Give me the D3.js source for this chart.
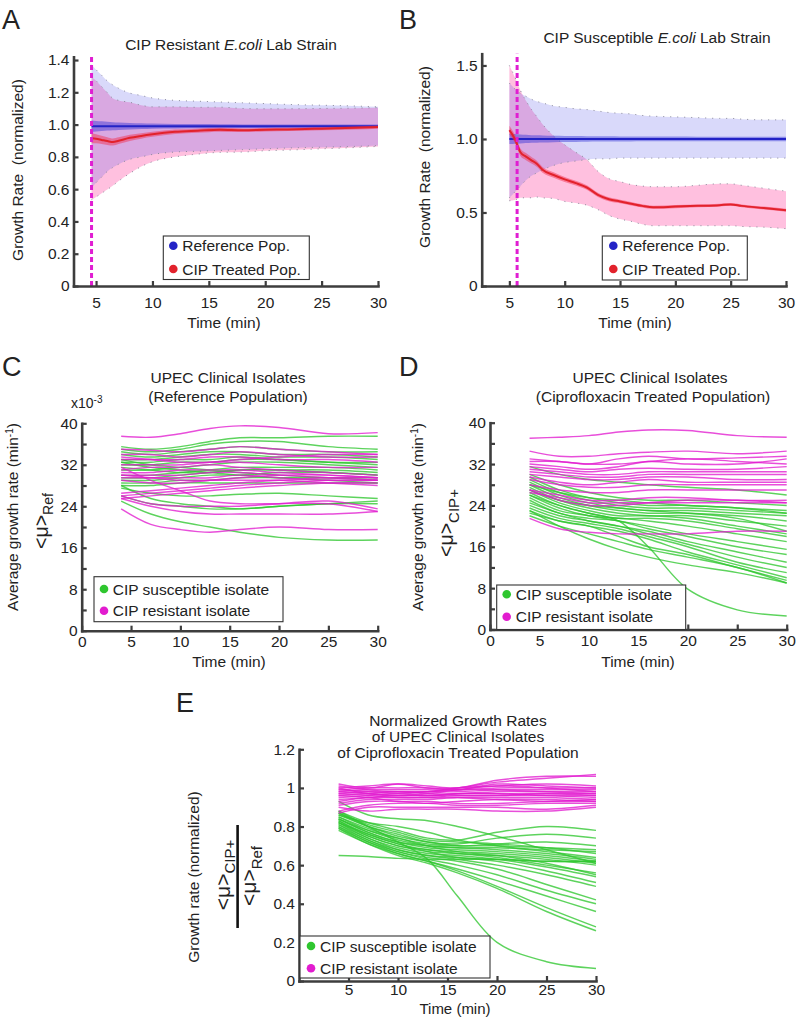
<!DOCTYPE html>
<html><head><meta charset="utf-8">
<script src="https://cdn.jsdelivr.net/npm/d3@7"></script>
<style>
body{margin:0;background:#fff}
svg text{font-family:"Liberation Sans",Arial,Helvetica,sans-serif;fill:#222}
</style>
</head><body>
<svg id="c" width="802" height="1017"></svg>
<script>
// ---------------- DATA ----------------
// Panel A: CIP resistant lab strain
const tA = [4.6, 5, 5.5, 6, 6.5, 7, 8, 9, 10, 12, 14, 16, 18, 20, 22, 25, 28, 30];
const aRefMean = [0.99,0.99,0.99,0.99,0.99,0.99,0.99,0.99,0.99,0.99,0.99,0.99,0.99,0.99,0.99,0.99,0.99,0.99];
const aRefSd   = [0.38,0.35,0.315,0.28,0.255,0.235,0.205,0.19,0.175,0.16,0.155,0.15,0.145,0.14,0.135,0.13,0.125,0.12];
const aRefSem  = [0.035,0.033,0.03,0.027,0.025,0.023,0.02,0.018,0.016,0.014,0.013,0.012,0.011,0.011,0.01,0.01,0.01,0.01];
const aCipMean = [0.915,0.912,0.905,0.898,0.892,0.9,0.918,0.93,0.94,0.955,0.962,0.968,0.965,0.968,0.97,0.975,0.98,0.985];
const aCipSd   = [0.38,0.36,0.33,0.3,0.27,0.25,0.22,0.19,0.17,0.155,0.145,0.14,0.135,0.13,0.128,0.125,0.122,0.12];
const aCipSem  = [0.03,0.028,0.026,0.024,0.022,0.021,0.019,0.017,0.016,0.014,0.013,0.012,0.011,0.011,0.01,0.01,0.01,0.01];
const aTreat = 4.6;

// Panel B: CIP susceptible lab strain
const tB = [5, 5.5, 6, 6.5, 7, 7.5, 8, 9, 10, 11, 12, 13, 14, 15, 16, 17, 18, 20, 22, 24, 25, 26, 28, 30];
const bRefMean  = [1,1,1,1,1,1,1,1,1,1,1,1,1,1,1,1,1,1,1,1,1,1,1,1];
const bRefUpper = [1.38,1.34,1.31,1.29,1.27,1.255,1.245,1.225,1.215,1.205,1.2,1.19,1.18,1.175,1.17,1.16,1.155,1.15,1.145,1.14,1.14,1.135,1.13,1.13];
const bRefLower = [0.6,0.64,0.68,0.72,0.75,0.77,0.79,0.82,0.84,0.85,0.86,0.865,0.865,0.87,0.87,0.87,0.87,0.87,0.87,0.87,0.87,0.87,0.87,0.87];
const bRefSem   = [0.035,0.033,0.03,0.028,0.026,0.025,0.024,0.022,0.021,0.02,0.019,0.018,0.018,0.017,0.017,0.016,0.016,0.016,0.015,0.015,0.015,0.015,0.015,0.015];
const bCipMean  = [1.06,1.0,0.91,0.88,0.855,0.83,0.79,0.755,0.725,0.7,0.67,0.62,0.59,0.575,0.56,0.545,0.535,0.54,0.545,0.55,0.555,0.545,0.53,0.515];
const bCipUpper = [1.5,1.42,1.33,1.26,1.2,1.15,1.1,1.02,0.96,0.91,0.86,0.78,0.73,0.71,0.69,0.68,0.675,0.675,0.685,0.695,0.695,0.685,0.665,0.645];
const bCipLower = [0.58,0.585,0.6,0.6,0.6,0.605,0.6,0.595,0.575,0.565,0.55,0.52,0.48,0.455,0.44,0.42,0.41,0.41,0.41,0.41,0.41,0.405,0.4,0.39];
const bCipSem   = [0.03,0.028,0.026,0.024,0.022,0.021,0.02,0.018,0.017,0.016,0.015,0.014,0.013,0.012,0.012,0.011,0.011,0.011,0.01,0.01,0.01,0.01,0.01,0.01];
const bTreat = 5.7;

// Panels C-E: clinical isolates, sampled at these times (min)
const tIso = [4, 7, 10, 13, 16, 20, 25, 30];
// C: reference population, growth rate x10^-3 min^-1
const cRes = [
 [37.5,37.3,38,39,39.5,39.2,38,38.2],[35,34.8,34.5,35,35.5,35,34.5,34],[34,34,33.5,34,34.5,34,33.5,33.5],
 [33,33,33,33.5,33.5,33,33,32.5],[32,32,32,32.5,32.5,32,31.5,31.5],[31,31.5,31.5,32,31.5,31,30.5,30],
 [30.5,30.5,31,31,31,30.5,30,29.5],[30,30,30,30.5,30.5,30,29.5,29],[29.5,29.5,29.5,29.5,30,29.5,29,29],
 [29,28.5,28.5,29,29.5,30,30,29.5],[26.5,27,27.5,28,28.5,29,29.5,29.5],[26,26.5,27,27.5,28,28.5,29,29],
 [25.5,26,26.5,27,27.5,28,28.5,28.5],[31.5,29,27,25,24.5,24.5,24.5,23],[26,24.5,24,24,24,24.5,25,23.5],
 [25.5,24,23,22.5,22.5,22.5,22.5,23],[23.5,20.5,19.5,19,19.5,20,19.5,19.5],[33.5,33,32.5,32.5,33,33.5,34,34],
 [30,29.5,29,29,29,29,28.5,28]
];
const cSus = [
 [35.5,35,35.5,36.5,37.2,37.2,37.5,37.5],[35,34.5,35,36,36.5,36.5,35.5,35],[34.5,34,34.5,35,35.5,35,34.5,34.5],
 [34,33.5,34,34.5,34.5,34,34,33.5],[33,33,33.5,34,34,33.5,33.5,33],[32.5,32.5,33,33,33.5,33,32.5,32.5],
 [32,32,32.5,32.5,33,33,32.5,32],[31,31,31.5,32,32.5,32.5,32,31.5],[30,30,30.5,31,31.5,31.5,31.5,31],
 [29.5,29.5,30,30.5,31,31,31,30.5],[29,29,29.5,30,30,30.5,30.5,30],[28.5,28.5,29,29,29.5,29.5,29.5,29.5],
 [28,28,28.5,28.5,28.5,28.5,28.5,28.5],[27.5,26.5,26,26,26.3,26.5,26,25.5],[28,25.5,24.5,24,23.5,24,24.5,25],
 [26,24.5,24,23.5,23.5,24,24.5,24.5],[25,22.5,21,20,19,18,17.5,17.5],[32.5,31.5,31,30.5,30,29.5,29,28.5],
 [33,32,31.5,31,30.5,30,29.5,29],[31.5,31,30.5,30.5,31,31,30.5,30]
];
// D: ciprofloxacin treated population
const dRes = [
 [37,37.2,37.5,38.2,38.6,38.5,37.5,37.2],[34.5,33.5,33.5,34,34.3,34.5,34,34.5],[32.5,32.5,32,33,33.5,33,33.2,33.5],
 [32,31.5,31,31.5,32.5,32,32,33],[31.5,31,30.5,31,31.2,31,31,31.5],[31,30.5,30,30,30.5,30.5,30.5,30.5],
 [30.5,30,29.5,29.5,30,30,30,30],[30,29.5,29,29,29.5,29.5,29,29],[29.5,28.5,28,28.5,29,28.5,28.5,28.5],
 [29,28,27.5,27.5,28,28,28,28],[28,27,26.5,26.5,27,27,27,27],[27,26,25,25,25.5,25.5,25,25],
 [26.5,25.5,24.5,24.5,24.5,24.5,24.5,24.5],[21.5,19.5,18.8,18.5,18.5,18.5,19,19],[27,25,24,24,24.5,25,25,24.5],
 [33,32.5,32,32,32.5,33,32.5,32]
];
const dSus = [
 [31.5,30,29,28.5,28,27.5,27,26],[30,28,26.5,25.5,25,25,24.5,24],[29.5,27,25.5,24.5,24,24,23.5,23],
 [29,26.5,25,24,23.5,23.5,23,22.5],[28.5,26,24.5,23.5,23,23,22.5,22],[28,25.5,24,23,22.5,22.5,22,21],
 [27.5,25,23.5,22.5,22,22,21,20],[27,24.5,23,22,22,21.5,20,18.5],[26.5,24,22.5,21.5,21.5,21,19.5,18],
 [26,23.5,22,21.5,21,20,18.5,17],[25.5,23,22,21,20,18.5,17,15.5],[25,22.5,21.5,21,19.5,18,16,14.5],
 [24.5,22.5,21,20,19,17,15,13],[24,22,21,20,18.5,16.5,14,12],[23.5,21.5,20.5,19.5,18,16,13,11],
 [23,21,20,19,17.5,15,12.5,10],[22.5,21,20,18,16,14.5,12,9.5],[22,20,18.5,17,15.5,14,12,9],
 [26,24,22.5,21,16,7.8,3.8,2.6],[23,20,17.5,15.5,14,12.5,11,9],[28,26.5,25.5,25,24.5,24,23.5,22.5],
 [27,25,24,23.5,23,22.5,21.5,19]
];
// E: normalized (treated / reference)
const eRes = [
 [1.02,1.0,1.02,1.01,1.0,1.04,1.06,1.06],[1.0,1.01,1.02,1.0,1.0,1.03,1.05,1.07],[0.99,1.0,1.0,1.0,0.99,1.02,1.01,1.0],
 [0.98,0.99,0.99,0.99,0.99,1.0,1.0,1.0],[0.97,0.98,0.98,0.98,0.98,0.99,0.99,0.99],[0.96,0.97,0.98,0.97,0.97,0.98,0.98,0.98],
 [0.95,0.96,0.97,0.96,0.97,0.97,0.97,0.97],[0.94,0.95,0.96,0.96,0.96,0.96,0.97,0.96],[0.93,0.95,0.95,0.95,0.96,0.96,0.96,0.95],
 [0.92,0.94,0.94,0.94,0.95,0.95,0.95,0.94],[0.91,0.93,0.93,0.92,0.93,0.94,0.94,0.93],[0.88,0.91,0.92,0.92,0.91,0.91,0.92,0.92],
 [0.87,0.9,0.9,0.9,0.9,0.9,0.89,0.91],[0.9,0.88,0.89,0.89,0.89,0.88,0.88,0.9],[1.0,0.97,0.96,0.97,0.99,1.01,1.0,0.98],
 [0.99,0.98,0.97,0.98,1.0,1.01,1.02,1.01],[1.01,0.99,0.98,0.98,0.99,0.99,0.98,0.97],[0.96,0.95,0.93,0.93,0.92,0.92,0.93,0.94],
 [0.97,0.96,0.95,0.95,0.95,0.94,0.93,0.93],[0.98,0.97,0.96,0.96,0.97,0.97,0.96,0.96]
];
const eSus = [
 [0.93,0.86,0.84,0.83,0.8,0.75,0.68,0.61],[0.88,0.82,0.78,0.74,0.73,0.77,0.8,0.78],[0.87,0.8,0.76,0.72,0.71,0.74,0.76,0.74],
 [0.86,0.8,0.75,0.72,0.7,0.71,0.72,0.7],[0.85,0.79,0.74,0.71,0.7,0.7,0.69,0.68],[0.85,0.78,0.73,0.7,0.69,0.69,0.68,0.67],
 [0.84,0.77,0.72,0.7,0.69,0.68,0.66,0.63],[0.84,0.77,0.72,0.69,0.68,0.67,0.65,0.62],[0.83,0.76,0.71,0.68,0.67,0.66,0.64,0.61],
 [0.83,0.75,0.7,0.68,0.66,0.65,0.63,0.6],[0.82,0.75,0.7,0.67,0.66,0.64,0.6,0.56],[0.82,0.74,0.69,0.66,0.65,0.63,0.59,0.54],
 [0.81,0.74,0.68,0.65,0.64,0.62,0.57,0.51],[0.81,0.73,0.68,0.65,0.63,0.6,0.55,0.49],[0.8,0.73,0.67,0.64,0.62,0.58,0.5,0.42],
 [0.8,0.72,0.67,0.63,0.6,0.55,0.47,0.4],[0.79,0.72,0.66,0.62,0.58,0.52,0.44,0.36],[0.79,0.71,0.66,0.62,0.57,0.49,0.38,0.28],
 [0.78,0.71,0.65,0.61,0.56,0.48,0.36,0.26],[0.88,0.8,0.72,0.63,0.44,0.2,0.1,0.065],[0.65,0.645,0.635,0.63,0.63,0.63,0.62,0.62],
 [0.86,0.82,0.8,0.77,0.73,0.7,0.67,0.64],[0.87,0.81,0.77,0.73,0.72,0.71,0.69,0.66],[0.84,0.78,0.74,0.7,0.67,0.65,0.61,0.55],
 [0.82,0.76,0.71,0.67,0.64,0.63,0.62,0.62]
];

// tick values
const xTicksAB = [5, 10, 15, 20, 25, 30];
const yTicksA = [0, 0.2, 0.4, 0.6, 0.8, 1.0, 1.2, 1.4];
const yTicksB = [0, 0.5, 1.0, 1.5];
const xTicksCD = [0, 5, 10, 15, 20, 25, 30];
const yTicksCD = [0, 4, 8, 12, 16, 20, 24, 28, 32, 36, 40];
const xTicksE = [5, 10, 15, 20, 25, 30];
const yTicksE = [0, 0.2, 0.4, 0.6, 0.8, 1, 1.2];

// ---------------- DRAWING ----------------
const svg = d3.select("#c");
const AX = "#3d3d3d", FS = 15.5;
const GREEN = "#2fc62f", MAG = "#e21ccf", BLUE = "#2323c6", RED = "#e2222c";

function axes(x, y, xt, yt, xfmt, yfmt, xpad, ypad){
  const gx = svg.append("g").attr("transform", `translate(0,${y.range()[0]})`)
    .call(d3.axisBottom(x).tickValues(xt).tickSizeInner(-5).tickSizeOuter(0).tickPadding(xpad).tickFormat(xfmt));
  const gy = svg.append("g").attr("transform", `translate(${x.range()[0]},0)`)
    .call(d3.axisLeft(y).tickValues(yt).tickSizeInner(-5).tickSizeOuter(0).tickPadding(ypad).tickFormat(yfmt));
  [gx, gy].forEach(g => {
    g.select(".domain").attr("stroke", AX).attr("stroke-width", 2.6).attr("stroke-linecap", "square");
    g.selectAll(".tick line").attr("stroke", AX).attr("stroke-width", 2.2);
    g.selectAll(".tick text").attr("fill", "#333").style("font-size", FS + "px")
      .style("font-family", '"Liberation Sans",Arial,sans-serif');
  });
}
function text(x, y, s, o = {}){
  const t = svg.append("text").attr("x", x).attr("y", y).text(s)
    .style("font-size", (o.fs || FS) + "px").attr("text-anchor", o.anchor || "middle");
  if (o.italic) t.style("font-style", "italic");
  return t;
}
function rtext(x, y, fs){
  return svg.append("text").attr("transform", `translate(${x},${y}) rotate(-90)`)
    .attr("text-anchor", "middle").style("font-size", fs + "px").style("white-space", "pre");
}
function legend(x0, y0, w, h, dotX, txtX, rows, items){
  svg.append("rect").attr("x", x0).attr("y", y0).attr("width", w).attr("height", h)
    .attr("fill", "#fff").attr("stroke", "#333").attr("stroke-width", 1.1);
  items.forEach((it, i) => {
    svg.append("circle").attr("cx", dotX).attr("cy", rows[i]).attr("r", 4.3).attr("fill", it[1]);
    svg.append("text").attr("x", txtX).attr("y", rows[i]).attr("dy", "0.36em")
      .style("font-size", FS + "px").attr("fill", "#222").text(it[0]);
  });
}
function letter(x, y, s){ text(x, y, s, {fs: 27, anchor: "start"}).attr("fill", "#000"); }
const f1 = d => d === 0 ? "0" : d3.format(".1f")(d);

function bandPanel(x, y, t, refU, refL, refM, refS, cipU, cipL, cipM, cipS, treat){
  const area = (u, l) => d3.area().x((d, i) => x(t[i])).y0((d, i) => y(l[i])).y1((d, i) => y(u[i])).curve(d3.curveMonotoneX)(t);
  const line = v => d3.line().x((d, i) => x(t[i])).y((d, i) => y(v[i])).curve(d3.curveMonotoneX)(t);
  svg.append("path").attr("d", area(cipU, cipL)).attr("fill", "rgba(255,70,160,0.34)");
  svg.append("path").attr("d", area(refU, refL)).attr("fill", "rgba(80,80,230,0.22)");
  [refU, refL, cipU, cipL].forEach(v => svg.append("path").attr("d", line(v)).attr("fill", "none")
    .attr("stroke", "#8a8a9a").attr("stroke-width", 1).attr("stroke-dasharray", "1,6"));
  svg.append("path").attr("d", area(refM.map((m, i) => m + refS[i]), refM.map((m, i) => m - refS[i])))
    .attr("fill", "rgba(50,50,215,0.45)");
  svg.append("path").attr("d", line(refM)).attr("fill", "none").attr("stroke", BLUE).attr("stroke-width", 2);
  svg.append("path").attr("d", area(cipM.map((m, i) => m + cipS[i]), cipM.map((m, i) => m - cipS[i])))
    .attr("fill", "rgba(245,40,70,0.45)");
  svg.append("path").attr("d", line(cipM)).attr("fill", "none").attr("stroke", RED).attr("stroke-width", 2);
  svg.append("line").attr("x1", x(treat)).attr("x2", x(treat)).attr("y1", y.range()[0]).attr("y2", y.range()[1])
    .attr("stroke", "#e01ed2").attr("stroke-width", 3).attr("stroke-dasharray", "5,3");
}

// ---- Panel A
{
  const x = d3.scaleLinear().domain([3, 30]).range([73.5, 378]);
  const y = d3.scaleLinear().domain([0, 1.42]).range([286, 56.8]);
  bandPanel(x, y, tA,
    aRefMean.map((m, i) => m + aRefSd[i]), aRefMean.map((m, i) => m - aRefSd[i]), aRefMean, aRefSem,
    aCipMean.map((m, i) => m + aCipSd[i]), aCipMean.map((m, i) => m - aCipSd[i]), aCipMean, aCipSem, aTreat);
  axes(x, y, xTicksAB, yTicksA, d => d, f1, 10.5, 4);
  legend(163.3, 236, 146, 43.5, 173.3, 182.3, [245.7, 269], [["Reference Pop.", BLUE], ["CIP Treated Pop.", RED]]);
  const tt = text(231, 50, "CIP Resistant ");
  tt.append("tspan").style("font-style", "italic").text("E.coli");
  tt.append("tspan").text(" Lab Strain");
  text(224, 328, "Time (min)");
  rtext(23, 170, FS).text("Growth Rate  (normalized)");
  letter(2, 29, "A");
}
// ---- Panel B
{
  const x = d3.scaleLinear().domain([2.5, 30]).range([481.7, 786]);
  const y = d3.scaleLinear().domain([0, 1.58]).range([286, 53.7]);
  bandPanel(x, y, tB, bRefUpper, bRefLower, bRefMean, bRefSem, bCipUpper, bCipLower, bCipMean, bCipSem, bTreat);
  axes(x, y, xTicksAB, yTicksB, d => d, f1, 10.5, 4);
  legend(602.3, 236, 145, 44, 613.3, 622.3, [245.7, 269], [["Reference Pop.", BLUE], ["CIP Treated Pop.", RED]]);
  const tt = text(657, 43, "CIP Susceptible ");
  tt.append("tspan").style("font-style", "italic").text("E.coli");
  tt.append("tspan").text(" Lab Strain");
  text(635, 328, "Time (min)");
  rtext(430, 157, FS).text("Growth Rate  (normalized)");
  letter(399, 29, "B");
}

function isoLines(x, y, sets){
  const line = d3.line().x((d, i) => x(tIso[i])).y(d => y(d)).curve(d3.curveCatmullRom.alpha(0.5));
  sets.forEach(([data, col]) => data.forEach(s =>
    svg.append("path").attr("d", line(s)).attr("fill", "none").attr("stroke", col)
      .attr("stroke-width", 1.45).attr("stroke-opacity", 0.78)));
}
function muLabel(x, y, sub, fsMain, fsSub, dy){
  const t = rtext(x, y, fsMain);
  t.append("tspan").text("<μ>");
  t.append("tspan").attr("dy", dy).style("font-size", fsSub + "px").text(sub);
  return t;
}
function growthLabel(x, y){
  const t = rtext(x, y, FS);
  t.append("tspan").text("Average growth rate (min");
  t.append("tspan").attr("dy", -5).style("font-size", "10px").text("-1");
  t.append("tspan").attr("dy", 5).text(")");
}

// ---- Panel C
{
  const x = d3.scaleLinear().domain([0, 30]).range([81.7, 377.7]);
  const y = d3.scaleLinear().domain([0, 40]).range([630.7, 423.3]);
  isoLines(x, y, [[cSus, GREEN], [cRes, MAG]]);
  axes(x, y, xTicksCD, yTicksCD, d => d, d => d % 8 === 0 ? d : "", 5, 4);
  legend(94, 576.7, 189, 45, 104, 112.7, [589, 610.7], [["CIP susceptible isolate", GREEN], ["CIP resistant isolate", MAG]]);
  text(228, 383, "UPEC Clinical Isolates");
  text(228, 402, "(Reference Population)");
  const xt = text(71, 408, "x10", {fs: 14, anchor: "start"}).attr("fill", "#333");
  xt.append("tspan").attr("dy", -5).style("font-size", "10px").text("-3");
  text(229, 667, "Time (min)");
  growthLabel(18, 517);
  muLabel(48, 521, "Ref", 19.5, 14, 5);
  letter(2, 376, "C");
}
// ---- Panel D
{
  const x = d3.scaleLinear().domain([0, 30]).range([490, 786.7]);
  const y = d3.scaleLinear().domain([0, 40]).range([629.5, 422.7]);
  isoLines(x, y, [[dSus, GREEN], [dRes, MAG]]);
  axes(x, y, xTicksCD, yTicksCD, d => d, d => d % 8 === 0 ? d : "", 5, 4);
  legend(496.7, 585, 189, 44.5, 506.7, 515.7, [594.3, 616.7], [["CIP susceptible isolate", GREEN], ["CIP resistant isolate", MAG]]);
  text(650, 383, "UPEC Clinical Isolates");
  text(653, 402, "(Ciprofloxacin Treated Population)");
  text(638, 667, "Time (min)");
  growthLabel(423, 517);
  muLabel(453, 523, "CIP+", 19.5, 15, 6);
  letter(399, 376, "D");
}
// ---- Panel E
{
  const x = d3.scaleLinear().domain([0, 30]).range([299, 596]);
  const y = d3.scaleLinear().domain([0, 1.2]).range([981, 749.3]);
  isoLines(x, y, [[eSus, GREEN], [eRes, MAG]]);
  axes(x, y, xTicksE, yTicksE, d => d, d => d, 2.5, 4);
  legend(300, 936, 190, 42, 311, 320, [946, 968.3], [["CIP susceptible isolate", GREEN], ["CIP resistant isolate", MAG]]);
  text(458, 726, "Normalized Growth Rates");
  text(458, 742, "of UPEC Clinical Isolates");
  text(458, 758, "of Ciprofloxacin Treated Population");
  text(455, 1013.5, "Time (min)", {fs: 15});
  rtext(199, 877, FS).text("Growth rate (normalized)");
  muLabel(230, 875, "CIP+", 21, 15, 5);
  muLabel(256, 876, "Ref", 21, 15, 6);
  svg.append("line").attr("x1", 237.6).attr("x2", 237.6).attr("y1", 825).attr("y2", 928)
    .attr("stroke", "#111").attr("stroke-width", 2.6);
  letter(176, 712, "E");
}
</script>
</body></html>
